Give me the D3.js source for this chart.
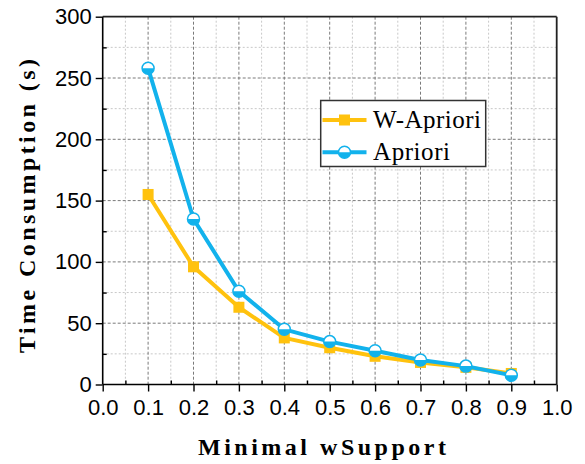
<!DOCTYPE html>
<html>
<head>
<meta charset="utf-8">
<script src="https://cdn.jsdelivr.net/npm/d3@7/dist/d3.min.js"></script>
<style>
  html, body { margin: 0; padding: 0; background: #fff; }
  svg { display: block; }
</style>
</head>
<body>
<svg id="chart" width="585" height="464"></svg>
<script>
// ---- data ----
const xValues = [0.1, 0.2, 0.3, 0.4, 0.5, 0.6, 0.7, 0.8, 0.9];
const wApriori = [155, 96, 63, 38, 30, 23, 18, 14, 9];
const apriori = [258, 135, 76, 45, 35, 27.5, 20, 15, 7.5];
const seriesNames = ["W-Apriori", "Apriori"];
const xTicks = [0, 0.1, 0.2, 0.3, 0.4, 0.5, 0.6, 0.7, 0.8, 0.9, 1.0];
const xMinorTicks = [0.05, 0.15, 0.25, 0.35, 0.45, 0.55, 0.65, 0.75, 0.85, 0.95];
const yTicks = [0, 50, 100, 150, 200, 250, 300];
const yMinorTicks = [25, 75, 125, 175, 225, 275];
const xTitle = "Minimal wSupport";
const yTitle = "Time Consumption (s)";

const colors = ["#FFC20E", "#12B2EC"];

const svg = d3.select("#chart");
const L = 102.7, R = 556.7, T = 16.7, B = 384.5;
const x = d3.scaleLinear().domain([0, 1]).range([L, R]);
const y = d3.scaleLinear().domain([0, 300]).range([B, T]);

// ---- grid ----
const grid = svg.append("g");
grid.selectAll(".gxm").data(xMinorTicks).join("line")
  .attr("x1", d => x(d)).attr("x2", d => x(d)).attr("y1", T).attr("y2", B)
  .attr("stroke", "#c8c8c8").attr("stroke-width", 1).attr("stroke-dasharray", "2,2");
grid.selectAll(".gym").data(yMinorTicks).join("line")
  .attr("y1", d => y(d)).attr("y2", d => y(d)).attr("x1", L).attr("x2", R)
  .attr("stroke", "#c8c8c8").attr("stroke-width", 1).attr("stroke-dasharray", "2,2");
grid.selectAll(".gx").data(xTicks.filter(d => d > 0 && d < 1)).join("line")
  .attr("x1", d => x(d)).attr("x2", d => x(d)).attr("y1", T).attr("y2", B)
  .attr("stroke", "#7a7a7a").attr("stroke-width", 1).attr("stroke-dasharray", "3,2");
grid.selectAll(".gy").data(yTicks.filter(d => d > 0 && d < 300)).join("line")
  .attr("y1", d => y(d)).attr("y2", d => y(d)).attr("x1", L).attr("x2", R)
  .attr("stroke", "#7a7a7a").attr("stroke-width", 1).attr("stroke-dasharray", "3,2");

// ---- frame (top/right) ----
svg.append("line").attr("x1", L).attr("x2", R).attr("y1", T).attr("y2", T)
  .attr("stroke", "#222").attr("stroke-width", 1.8);
svg.append("line").attr("x1", R).attr("x2", R).attr("y1", T).attr("y2", B)
  .attr("stroke", "#222").attr("stroke-width", 1.8);

// ---- axes ----
const tickFont = "'Liberation Sans', Arial, sans-serif";
const xAxis = svg.append("g").attr("transform", `translate(0,${B})`)
  .call(d3.axisBottom(x).tickValues(xTicks).tickSize(7).tickPadding(8).tickFormat(d3.format(".1f")));
svg.append("g").attr("transform", `translate(0,${B})`)
  .call(d3.axisBottom(x).tickValues(xMinorTicks).tickSize(-4).tickFormat(""))
  .select(".domain").remove();
const yAxis = svg.append("g").attr("transform", `translate(${L},0)`)
  .call(d3.axisLeft(y).tickValues(yTicks).tickSize(7).tickPadding(4).tickFormat(d3.format("d")));
svg.append("g").attr("transform", `translate(${L},0)`)
  .call(d3.axisLeft(y).tickValues(yMinorTicks).tickSize(-4).tickFormat(""))
  .select(".domain").remove();

svg.selectAll(".domain").attr("stroke", "#000").attr("stroke-width", 1.6);
svg.selectAll(".tick line").attr("stroke", "#000").attr("stroke-width", 1.4);
svg.selectAll(".tick text").attr("font-family", tickFont).attr("font-size", 22).attr("fill", "#000");
xAxis.selectAll(".domain").attr("d", `M${L},0H${R}`);
yAxis.selectAll(".domain").attr("d", `M0,${B}V${T}`);

// ---- lines ----
const line = d3.line().x((d, i) => x(xValues[i])).y(d => y(d));
[wApriori, apriori].forEach((vals, k) => {
  svg.append("path").datum(vals).attr("d", line)
    .attr("fill", "none").attr("stroke", colors[k]).attr("stroke-width", 4)
    .attr("stroke-linejoin", "round");
});

// markers
function square(g, cx, cy) {
  g.append("rect").attr("x", cx - 5.5).attr("y", cy - 5.5).attr("width", 11).attr("height", 11)
    .attr("fill", colors[0]);
}
function halfCircle(g, cx, cy) {
  const r = 6;
  g.append("circle").attr("cx", cx).attr("cy", cy).attr("r", r).attr("fill", "#fff");
  g.append("path").attr("d", `M${cx - r},${cy} A${r},${r} 0 0 0 ${cx + r},${cy} Z`).attr("fill", colors[1]);
  g.append("circle").attr("cx", cx).attr("cy", cy).attr("r", r).attr("fill", "none")
    .attr("stroke", colors[1]).attr("stroke-width", 1.5);
}
const mk = svg.append("g");
wApriori.forEach((v, i) => square(mk, x(xValues[i]), y(v)));
apriori.forEach((v, i) => halfCircle(mk, x(xValues[i]), y(v)));

// ---- legend ----
const lg = svg.append("g");
lg.append("rect").attr("x", 320.7).attr("y", 100.5).attr("width", 165).attr("height", 66)
  .attr("fill", "#fff").attr("stroke", "#333").attr("stroke-width", 1.5);
const legY = [120, 152.3];
const legLen = [108, 77];
seriesNames.forEach((name, k) => {
  lg.append("line").attr("x1", 322.5).attr("x2", 366.5).attr("y1", legY[k]).attr("y2", legY[k])
    .attr("stroke", colors[k]).attr("stroke-width", 4);
  if (k === 0) square(lg, 344.5, legY[k]); else halfCircle(lg, 344.5, legY[k]);
  lg.append("text").attr("x", 373).attr("y", legY[k] + 8)
    .attr("font-family", "'Liberation Serif', 'Times New Roman', serif").attr("font-size", 25)
    .attr("textLength", legLen[k]).attr("lengthAdjust", "spacing")
    .text(name);
});

// ---- titles ----
svg.append("text").attr("x", 322).attr("y", 455).attr("text-anchor", "middle")
  .attr("font-family", "'Liberation Serif', 'Times New Roman', serif").attr("font-weight", "bold")
  .attr("font-size", 24).attr("textLength", 248).attr("lengthAdjust", "spacing").text(xTitle);
svg.append("text").attr("transform", "translate(35,206) rotate(-90)").attr("text-anchor", "middle")
  .attr("font-family", "'Liberation Serif', 'Times New Roman', serif").attr("font-weight", "bold")
  .attr("font-size", 24).attr("textLength", 294).attr("lengthAdjust", "spacing").text(yTitle);
</script>
</body>
</html>
